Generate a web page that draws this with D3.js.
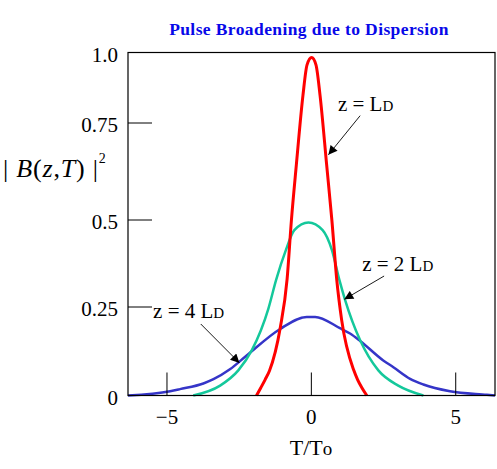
<!DOCTYPE html>
<html>
<head>
<meta charset="utf-8">
<script src="https://cdn.jsdelivr.net/npm/d3@7"></script>
<style>
    body { margin: 0; background: #fff; }
    svg { display: block; }
    text { font-family: "Liberation Serif", "Times New Roman", serif; }
</style>
</head>
<body>
<div id="chart"></div>
<script>
// curves, T/To against |B(z,T)|^2
var redT   = [-1.9, -1.75, -1.6, -1.45, -1.08, -0.84, -0.69, -0.52, -0.29, -0.15, 0.01, 0.16, 0.30, 0.53, 0.71, 0.88, 1.05, 1.47, 1.6, 1.75, 1.92];
var redV   = [0, 0.022, 0.045, 0.07, 0.19, 0.33, 0.5, 0.642, 0.849, 0.956, 0.982, 0.956, 0.849, 0.642, 0.5, 0.328, 0.213, 0.071, 0.045, 0.022, 0];

var greenT = [-4.09, -3.16, -2.53, -2.06, -1.49, -1.22, -0.88, -0.59, -0.10, 0.39, 0.71, 0.97, 1.17, 1.69, 2.32, 3.01, 3.88];
var greenV = [0, 0.028, 0.071, 0.128, 0.245, 0.328, 0.414, 0.471, 0.493, 0.471, 0.414, 0.328, 0.27, 0.156, 0.071, 0.028, 0];

var blueT  = [-6.35, -4.89, -4.55, -3.74, -3.39, -2.82, -2.24, -1.08, -0.16, 0.13, 0.99, 1.34, 1.69, 2.49, 2.84, 3.42, 3.88, 4.8, 6.08, 6.36];
var blueV  = [0, 0.012, 0.018, 0.034, 0.046, 0.074, 0.113, 0.188, 0.222, 0.222, 0.19, 0.175, 0.154, 0.099, 0.08, 0.047, 0.031, 0.012, 0.002, 0];

var xTicks = [-5, 0, 5];
var xTickLabels = ["\u22125", "0", "5"];
var yTicks = [0, 0.25, 0.5, 0.75, 1];
var yTickLabels = ["0", "0.25", "0.5", "0.75", "1.0"];

// annotation: label anchor, arrow start, arrow tip (T, value)
var noteText  = ["", "2 ", "4 "];
var noteLabel = [[0.92, 0.793], [1.76, 0.353], [-5.48, 0.219]];
var noteFrom  = [[1.69, 0.776], [2.52, 0.339], [-3.83, 0.202]];
var noteTo    = [[0.59, 0.668], [1.14, 0.272], [-2.49, 0.092]];

function zip(a, b) {
    return a.map(function (d, i) { return [d, b[i]]; });
}

function drawChart() {
    var width = 497, height = 469;

    var svg = d3.select("#chart").append("svg")
        .attr("width", width)
        .attr("height", height);

    svg.append("defs").append("marker")
        .attr("id", "head")
        .attr("viewBox", "0 0 10 10")
        .attr("refX", 10).attr("refY", 5)
        .attr("markerWidth", 10).attr("markerHeight", 9)
        .attr("markerUnits", "userSpaceOnUse")
        .attr("orient", "auto")
        .append("path")
        .attr("d", "M0,0 L10,5 L0,10 z")
        .attr("fill", "#000");

    var x = d3.scaleLinear().domain([-6.35, 6.36]).range([128, 495]);
    // the printed ticks are not evenly spaced, so the scale follows them
    var y = d3.scaleLinear().domain(yTicks).range([395.5, 307, 220, 123, 52.5]);

    // title
    svg.append("text")
        .attr("x", 309).attr("y", 35)
        .attr("text-anchor", "middle")
        .attr("font-size", "17.5px")
        .attr("font-weight", "bold")
        .attr("letter-spacing", "0.4px")
        .attr("fill", "#0808e8")
        .text("Pulse Broadening due to Dispersion");

    var line = d3.line()
        .x(function (d) { return x(d[0]); })
        .y(function (d) { return y(d[1]); })
        .curve(d3.curveMonotoneX);

    var series = [
        {pts: zip(blueT, blueV), color: "#3535c8", w: 2.5},
        {pts: zip(greenT, greenV), color: "#14c89b", w: 2.5},
        {pts: zip(redT, redV), color: "#ff0000", w: 3}
    ];

    svg.selectAll("path.curve")
        .data(series)
        .enter().append("path")
        .attr("class", "curve")
        .attr("d", function (d) { return line(d.pts); })
        .attr("fill", "none")
        .attr("stroke", function (d) { return d.color; })
        .attr("stroke-width", function (d) { return d.w; });

    // frame
    svg.append("rect")
        .attr("x", x(-6.35)).attr("y", y(1))
        .attr("width", x(6.36) - x(-6.35))
        .attr("height", y(0) - y(1))
        .attr("fill", "none")
        .attr("stroke", "#000")
        .attr("stroke-width", 1.2);

    // inner ticks
    svg.selectAll("line.xt")
        .data(xTicks)
        .enter().append("line")
        .attr("x1", function (d) { return x(d); })
        .attr("x2", function (d) { return x(d); })
        .attr("y1", y(0)).attr("y2", y(0) - 23)
        .attr("stroke", "#000");

    svg.selectAll("line.yt")
        .data(yTicks.slice(1, 4))
        .enter().append("line")
        .attr("x1", x(-6.35)).attr("x2", x(-6.35) + 24)
        .attr("y1", function (d) { return y(d); })
        .attr("y2", function (d) { return y(d); })
        .attr("stroke", "#000");

    svg.selectAll("text.xl")
        .data(xTicks)
        .enter().append("text")
        .attr("x", function (d) { return x(d); })
        .attr("y", 424)
        .attr("text-anchor", "middle")
        .attr("font-size", "21px")
        .text(function (d, i) { return xTickLabels[i]; });

    svg.selectAll("text.yl")
        .data(yTicks)
        .enter().append("text")
        .attr("x", 118)
        .attr("y", function (d) { return y(d) + 9; })
        .attr("text-anchor", "end")
        .attr("font-size", "21px")
        .text(function (d, i) { return yTickLabels[i]; });

    // axis titles
    var xl = svg.append("text")
        .attr("x", 311).attr("y", 455)
        .attr("text-anchor", "middle")
        .attr("font-size", "22px");
    xl.append("tspan").text("T/T");
    xl.append("tspan").attr("font-size", "19px").text("o");

    var yl = svg.append("text")
        .attr("x", 3).attr("y", 177)
        .attr("font-size", "26px")
        .attr("letter-spacing", "0.8px");
    yl.append("tspan").text("| ");
    yl.append("tspan").attr("font-style", "italic").text("B");
    yl.append("tspan").text("(");
    yl.append("tspan").attr("font-style", "italic").text("z");
    yl.append("tspan").text(",");
    yl.append("tspan").attr("font-style", "italic").text("T");
    yl.append("tspan").text(") |");
    yl.append("tspan").attr("font-size", "14px").attr("dy", -14).text("2");

    // curve labels with arrows
    noteText.forEach(function (t, i) {
        var lab = svg.append("text")
            .attr("x", x(noteLabel[i][0]))
            .attr("y", y(noteLabel[i][1]))
            .attr("font-size", "21px");
        lab.append("tspan").text("z = " + t + "L");
        lab.append("tspan").attr("font-size", "15px").text("D");

        svg.append("line")
            .attr("x1", x(noteFrom[i][0])).attr("y1", y(noteFrom[i][1]))
            .attr("x2", x(noteTo[i][0])).attr("y2", y(noteTo[i][1]))
            .attr("stroke", "#000")
            .attr("stroke-width", 0.9)
            .attr("marker-end", "url(#head)");
    });
}

document.addEventListener("DOMContentLoaded", drawChart);
</script>
</body>
</html>
